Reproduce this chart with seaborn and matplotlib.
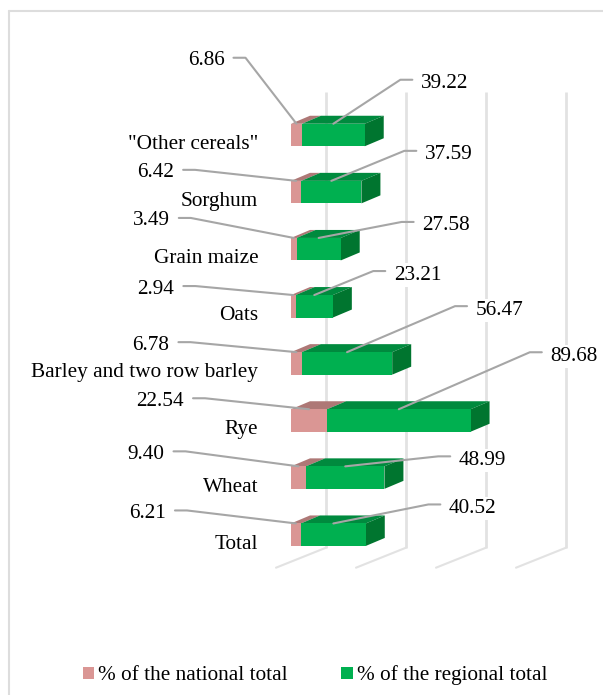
import matplotlib
matplotlib.use("Agg")
import matplotlib.pyplot as plt
from matplotlib.lines import Line2D
from matplotlib.patches import Patch, Polygon
import pandas as pd
import seaborn as sns

categories = ['"Other cereals"', "Sorghum", "Grain maize", "Oats",
              "Barley and two row barley", "Rye", "Wheat", "Total"]
national_share = [6.86, 6.42, 3.49, 2.94, 6.78, 22.54, 9.40, 6.21]
regional_share = [39.22, 37.59, 27.58, 23.21, 56.47, 89.68, 48.99, 40.52]
axis_values = [0, 50, 100, 150]

series_names = ["% of the national total", "% of the regional total"]

# Leader elbows, as pixel offsets from the point each leader starts on its bar
national_elbows = [(-51, -66), (-101, -11), (-103, -20), (-98, -9),
                   (-106, -10), (-104, -11), (-113, -15), (-109, -13)]
regional_elbows = [(67, -44), (73, -30), (83, -16), (59, -24),
                   (108, -46), (131, -57), (93, -10), (95, -19)]

PINK, PINK_TOP = "#DA9694", "#AE7876"
GREEN, GREEN_TOP, GREEN_SIDE = "#00B050", "#008A3E", "#00752F"
GRID, LEADER, FRAME = "#E2E2E2", "#A6A6A6", "#DDDDDD"

W, H = 603, 695
PX_PER_UNIT = 1.6       # horizontal pixels for one percentage point
PX_PER_ROW = 57.1       # vertical pixels between neighbouring bars
FIRST_ROW_PX = 135      # vertical pixel of the first bar's centre
ZERO_PX = 291           # horizontal pixel of zero on the front plane
BAR_THICK = 22.5 / PX_PER_ROW
DEPTH_X = 19 / PX_PER_UNIT
DEPTH_Y = 8 / PX_PER_ROW

sns.set_theme(style="white")
plt.rcParams["font.family"] = ["Liberation Serif", "DejaVu Serif"]
plt.rcParams["font.size"] = 15.3

fig = plt.figure(figsize=(W / 100, H / 100), dpi=100)
AX_L, AX_R, AX_T, AX_B = 270, W, 60, 600
ax = fig.add_axes([AX_L / W, 1 - AX_B / H, (AX_R - AX_L) / W, (AX_B - AX_T) / H])

table = pd.DataFrame({"category": categories,
                      "national": national_share,
                      "regional": regional_share})
table["stacked"] = table["national"] + table["regional"]

# Stack by painting the full length first, then the national part over it
sns.barplot(data=table, x="stacked", y="category", color=GREEN, saturation=1,
            width=BAR_THICK, errorbar=None, ax=ax, zorder=2, linewidth=0)
sns.barplot(data=table, x="national", y="category", color=PINK, saturation=1,
            width=BAR_THICK, errorbar=None, ax=ax, zorder=2.1, linewidth=0)

ax.set_xlim((AX_L - ZERO_PX) / PX_PER_UNIT, (AX_R - ZERO_PX) / PX_PER_UNIT)
ax.set_ylim((AX_B - FIRST_ROW_PX) / PX_PER_ROW, (AX_T - FIRST_ROW_PX) / PX_PER_ROW)
ax.set_xlabel("")
ax.set_ylabel("")
ax.set_xticks([])
ax.patch.set_alpha(0)
sns.despine(ax=ax, left=True, bottom=True)
ax.tick_params(axis="y", length=0, pad=8.5, labelsize=15.3, labelcolor="black")
for label in ax.get_yticklabels():
    label.set_verticalalignment("top")


def px_x(value):
    return value / PX_PER_UNIT


def px_y(value):
    return value / PX_PER_ROW


# Back wall and floor gridlines of the 3-D plot box
last_row = len(categories) - 1
floor_y = last_row + px_y(548 - 535)
wall_top = px_y(92 - FIRST_ROW_PX)
for tick in axis_values:
    back_x = tick + px_x(35)
    ax.plot([back_x, back_x], [wall_top, floor_y], color=GRID, lw=2,
            zorder=1, clip_on=False, solid_capstyle="butt")
    ax.plot([back_x, back_x - px_x(50)], [floor_y, floor_y + px_y(20)],
            color=GRID, lw=1.5, zorder=1, clip_on=False)


def top_face(start, end, row, color):
    edge = row - BAR_THICK / 2
    corners = [(start, edge), (end, edge),
               (end + DEPTH_X, edge - DEPTH_Y), (start + DEPTH_X, edge - DEPTH_Y)]
    ax.add_patch(Polygon(corners, closed=True, facecolor=color, edgecolor="none",
                         zorder=1.8))


def side_face(end, row, color):
    top, bottom = row - BAR_THICK / 2, row + BAR_THICK / 2
    corners = [(end, top), (end + DEPTH_X, top - DEPTH_Y),
               (end + DEPTH_X, bottom - DEPTH_Y), (end, bottom)]
    ax.add_patch(Polygon(corners, closed=True, facecolor=color, edgecolor="none",
                         zorder=1.9))


def leader(anchor_x, row, elbow, value):
    anchor_y = row - BAR_THICK / 2
    direction = 1 if elbow[0] > 0 else -1
    elbow_x = anchor_x + px_x(elbow[0])
    elbow_y = anchor_y + px_y(elbow[1])
    stub_x = elbow_x + direction * px_x(12)
    ax.plot([anchor_x, elbow_x, stub_x], [anchor_y, elbow_y, elbow_y],
            color=LEADER, lw=1.5, zorder=3, clip_on=False)
    text_offset = (8.5, -4) if direction > 0 else (-9, -3)
    ax.annotate(f"{value:.2f}", xy=(stub_x, elbow_y),
                xytext=text_offset, textcoords="offset pixels",
                ha="left" if direction > 0 else "right", va="center",
                fontsize=15.3, color="black", zorder=4, annotation_clip=False,
                bbox=dict(facecolor="white", edgecolor="none", pad=1.5))


for row, (nat, reg) in enumerate(zip(national_share, regional_share)):
    top_face(0, nat, row, PINK_TOP)
    top_face(nat, nat + reg, row, GREEN_TOP)
    side_face(nat + reg, row, GREEN_SIDE)
    leader(nat / 2, row, national_elbows[row], nat)
    leader(nat + reg / 2, row, regional_elbows[row], reg)

# Chart area outline: its right and bottom sides run past the canvas
fig.add_artist(Line2D([9 / W, 9 / W], [1 - 11 / H, 0], color=FRAME, lw=1.5))
fig.add_artist(Line2D([9 / W, 1], [1 - 11 / H, 1 - 11 / H], color=FRAME, lw=1.5))

handles = [Patch(facecolor=PINK, edgecolor="none", label=series_names[0]),
           Patch(facecolor=GREEN, edgecolor="none", label=series_names[1])]
fig.legend(handles=handles, loc="center left", ncol=2, frameon=False,
           bbox_to_anchor=(83 / W, 1 - 675.5 / H), borderaxespad=0, borderpad=0,
           handlelength=0.52, handleheight=0.52, handletextpad=0.19,
           columnspacing=2.53, fontsize=15.3, labelcolor="black")

fig.savefig("out.png", dpi=100, facecolor="white")
